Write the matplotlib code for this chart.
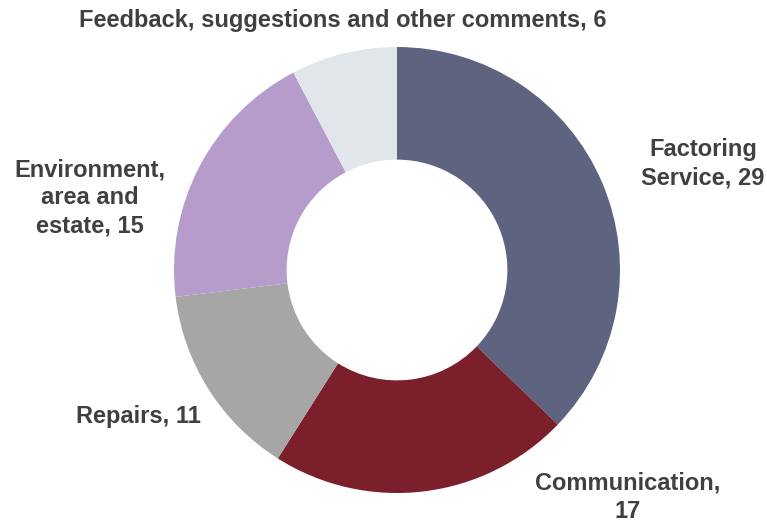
import matplotlib
matplotlib.use("Agg")
import matplotlib.pyplot as plt

categories = ["Factoring Service", "Communication", "Repairs",
              "Environment, area and estate", "Feedback, suggestions and other comments"]
values = [29, 17, 11, 15, 6]
label_texts = ["Factoring\nService, 29", "Communication,\n17", "Repairs, 11",
               "Environment,\narea and\nestate, 15", "Feedback, suggestions and other comments, 6"]
colors = ["#5E637F", "#7B1F2B", "#A6A6A6", "#B59CCB", "#E1E6EB"]
# label anchor positions (pixels from top-left)
label_pos = [(703, 164), (628, 497), (138, 417), (90, 198), (343, 20)]

W, H = 767, 522
fig = plt.figure(figsize=(W / 100, H / 100), dpi=100)
ax = fig.add_axes([0, 0, 1, 1])

cx, cy, R = 397, 270, 223
ax.pie(values, colors=colors, startangle=90, counterclock=False,
       center=(cx, H - cy), radius=R, wedgeprops=dict(width=R * 0.505, linewidth=0),
       frame=True)
ax.set_xlim(0, W)
ax.set_ylim(0, H)
ax.set_aspect("equal")
ax.axis("off")

for txt, (x, y) in zip(label_texts, label_pos):
    ax.text(x, H - y, txt, ha="center", va="center", fontsize=17, fontweight="bold",
            color="#404040", family=["Liberation Sans", "DejaVu Sans"], linespacing=1.3)

fig.savefig("out.png", dpi=100)
